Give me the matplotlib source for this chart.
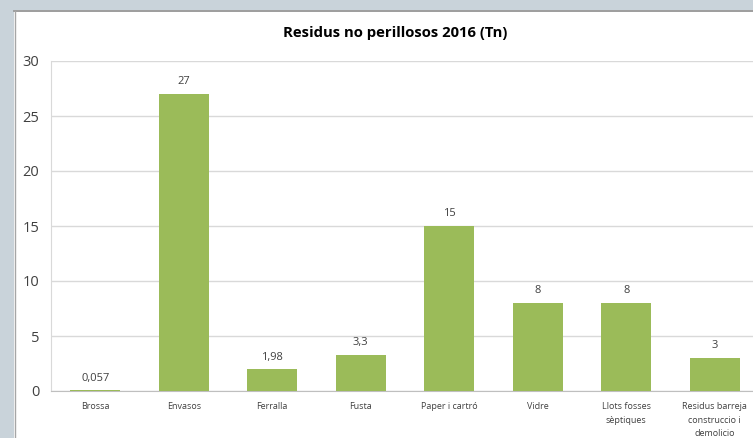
import matplotlib.pyplot as plt
from matplotlib.patches import Rectangle

# Residus no perillosos 2016 (Tn)
categories = ['Brossa', 'Envasos', 'Ferralla', 'Fusta', 'Paper i cartró', 'Vidre',
              'Llots fosses\nsèptiques', 'Residus barreja\nconstruccio i\ndemolicio']
values = [0.057, 27, 1.98, 3.3, 15, 8, 8, 3]
value_labels = ['0,057', '27', '1,98', '3,3', '15', '8', '8', '3']
yticks = [0, 5, 10, 15, 20, 25, 30]

plt.rcParams['font.family'] = ['Open Sans', 'DejaVu Sans']

W, H = 753, 438
fig = plt.figure(figsize=(W / 100, H / 100), dpi=100)
fig.patch.set_facecolor('white')

# window frame of the screenshot (grey bands top and left)
fig.patches.append(Rectangle((0, 1 - 10 / H), 1, 10 / H, transform=fig.transFigure,
                             facecolor='#c9d3da', edgecolor='none', zorder=0))
fig.patches.append(Rectangle((0, 0), 14 / W, 1, transform=fig.transFigure,
                             facecolor='#c9d3da', edgecolor='none', zorder=0))
fig.add_artist(plt.Line2D([14 / W, 1], [1 - 11 / H] * 2, transform=fig.transFigure,
                          color='#8c8c8c', lw=1.2))
fig.add_artist(plt.Line2D([14.5 / W] * 2, [0, 1 - 11 / H], transform=fig.transFigure,
                          color='#a6a6a6', lw=1.0))

left, right, top, bottom = 51, 759, 61, 391
ax = fig.add_axes([left / W, 1 - bottom / H, (right - left) / W, (bottom - top) / H])
ax.set_facecolor('none')

x = range(len(categories))
ax.bar(x, values, width=0.57, color='#9bbb59', zorder=3)
for xi, v, lab in zip(x, values, value_labels):
    ax.text(xi, v + 0.6, lab, ha='center', va='bottom', fontsize=8, color='#404040')

ax.set_xlim(-0.5, len(categories) - 0.5)
ax.set_ylim(0, 30)
ax.set_yticks(yticks)
ax.set_yticklabels([str(t) for t in yticks], fontsize=10.5, color='#404040')
ax.set_xticks(list(x))
ax.set_xticklabels(categories, fontsize=6.5, color='#404040', linespacing=1.65, va='top')
ax.tick_params(axis='both', length=0)
ax.tick_params(axis='y', pad=8.5)
ax.tick_params(axis='x', pad=8)
ax.grid(axis='y', color='#d9d9d9', lw=1.0, zorder=0)
for s in ['top', 'right']:
    ax.spines[s].set_visible(False)
ax.spines['left'].set_color('#d9d9d9')
ax.spines['bottom'].set_color('#bfbfbf')

fig.text(395 / W, 1 - 33 / H, 'Residus no perillosos 2016 (Tn)', ha='center', va='center',
         fontsize=10.7, fontweight='bold', color='#000000')

fig.savefig('out.png', dpi=100)
